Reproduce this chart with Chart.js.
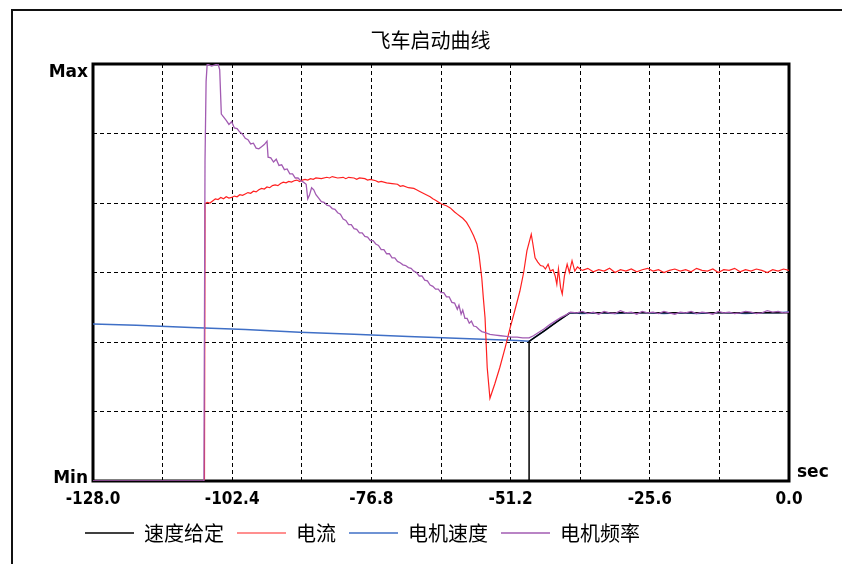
<!DOCTYPE html>
<html>
<head>
<meta charset="utf-8">
<script src="https://cdn.jsdelivr.net/npm/chart.js@4.4.1/dist/chart.umd.min.js"></script>
<style>
  body { margin: 0; background: #fff; }
</style>
</head>
<body>
<canvas id="myChart" width="842" height="564"></canvas>
<script>
// x axis: seconds, grid every 12.8 s, labels every other line
var xGrid = [-128, -115.2, -102.4, -89.6, -76.8, -64, -51.2, -38.4, -25.6, -12.8, 0];
var xTickText = ["-128.0", "", "-102.4", "", "-76.8", "", "-51.2", "", "-25.6", "", "0.0"];
var yGrid = [0, 1, 2, 3, 4, 5, 6];
var yTickText = ["Min", "Max"];
var seriesNames = ["速度给定", "电流", "电机速度", "电机频率"];

// 速度给定
var setT = [-128, -47.8, -47.8, -45.0, -42.5, -40.3, 0];
var setV = [0, 0, 2.01, 2.16, 2.30, 2.42, 2.42];

// 电流
var curT = [
  -128, -107.5, -107.4, -107.0, -106.5, -106.0, -105.5, -105.0, -104.5, -104.0,
  -103.5, -103.0, -102.5, -102.0, -101.5, -101.0, -100.5, -100.0, -99.5, -99.0,
  -98.5, -98.0, -97.5, -97.0, -96.5, -96.0, -95.5, -95.0, -94.5, -94.0,
  -93.5, -93.0, -92.5, -92.0, -91.5, -91.0, -90.5, -90.0, -89.5, -89.0,
  -88.5, -88.0, -87.5, -87.0, -86.0, -85.0, -84.5, -84.0, -83.0, -82.0,
  -81.5, -81.0, -80.0, -79.5, -79.0, -78.0, -77.5, -77.0, -76.0, -75.5,
  -75.0, -74.0, -73.0, -72.0, -71.5, -71.0, -70.0, -69.0, -68.5, -68.0,
  -67.0, -66.0, -65.5, -65.0, -64.0, -63.0, -62.3, -61.5, -61.0, -60.5,
  -60.0, -59.3, -58.7, -58.0, -57.4, -57.0, -56.5, -56.2, -55.9, -55.5,
  -55.0, -54.1, -53.2, -52.2, -51.3, -50.4, -49.5, -48.8, -48.2, -47.4,
  -47.1, -46.7, -46.2, -45.7, -45.2, -44.8, -44.3, -43.9, -43.4, -43.0,
  -42.7, -42.4, -42.0, -41.7, -41.3, -40.8, -40.4, -39.9, -39.4, -38.9,
  -38.4, -38, -37, -36, -35, -34, -33, -32, -31, -30,
  -29, -28, -27, -26, -25, -24, -23, -22, -21, -20,
  -19, -18, -17, -16, -15, -14, -13, -12, -11, -10,
  -9, -8, -7, -6, -5, -4, -3, -2, -1, 0
];
var curV = [
  0, 0, 3.99, 4.01, 4.00, 4.03, 4.06, 4.05, 4.08, 4.06,
  4.09, 4.07, 4.08, 4.10, 4.09, 4.12, 4.11, 4.13, 4.15, 4.14,
  4.17, 4.16, 4.19, 4.21, 4.20, 4.23, 4.22, 4.25, 4.26, 4.25,
  4.28, 4.30, 4.29, 4.31, 4.30, 4.32, 4.33, 4.31, 4.33, 4.34,
  4.33, 4.35, 4.34, 4.36, 4.35, 4.37, 4.36, 4.38, 4.36, 4.37,
  4.35, 4.37, 4.36, 4.34, 4.36, 4.35, 4.33, 4.34, 4.32, 4.30,
  4.31, 4.29, 4.28, 4.27, 4.24, 4.25, 4.22, 4.21, 4.19, 4.17,
  4.13, 4.09, 4.06, 4.04, 3.99, 3.96, 3.93, 3.87, 3.84, 3.81,
  3.78, 3.72, 3.64, 3.53, 3.41, 3.25, 2.92, 2.62, 2.35, 1.63,
  1.19, 1.40, 1.63, 1.92, 2.20, 2.46, 2.73, 3.00, 3.31, 3.55,
  3.41, 3.21, 3.15, 3.10, 3.09, 3.05, 3.12, 3.02, 3.04, 2.95,
  2.83, 3.05, 2.78, 2.69, 2.95, 3.12, 3.00, 3.17, 3.02, 3.08,
  3.05, 3.03, 3.06, 3.01, 3.04, 3.02, 3.06, 3.00, 3.04, 3.02,
  3.05, 3.01, 3.04, 3.06, 3.02, 3.04, 3.00, 3.03, 3.05, 3.02,
  3.04, 3.01, 3.06, 3.03, 3.02, 3.05, 3.00, 3.04, 3.03, 3.06,
  3.01, 3.04, 3.02, 3.05, 3.03, 3.00, 3.04, 3.02, 3.05, 3.03
];

// 电机速度
var spdT = [-128, -120, -110, -100, -90, -80, -70, -60, -50, -47.8,
  -46.5, -45, -43.5, -42, -40.3, -38, -35, -32, -29, -26,
  -23, -20, -17, -14, -11, -8, -5, -2, 0];
var spdV = [2.26, 2.24, 2.21, 2.18, 2.14, 2.11, 2.08, 2.05, 2.02, 2.01,
  2.08, 2.16, 2.25, 2.33, 2.42, 2.41, 2.42, 2.41, 2.42, 2.42,
  2.41, 2.42, 2.41, 2.42, 2.42, 2.41, 2.42, 2.42, 2.43];

// 电机频率
var frqT = [
  -128, -107.6, -107.4, -107.2, -107.0, -106.2, -105.4, -105.0, -104.7, -104.4,
  -104.0, -103.5, -103.0, -102.5, -102.0, -101.5, -101.0, -100.5, -100.0, -99.5,
  -99.0, -98.5, -98.0, -97.5, -97.0, -96.5, -96.0, -95.8, -95.3, -94.8,
  -94.3, -93.8, -93.3, -92.8, -92.3, -91.8, -91.3, -90.8, -90.3, -89.8,
  -89.3, -88.8, -88.5, -88.2, -87.8, -87.4, -87.0, -86.5, -86.0, -85.5,
  -85.0, -84.5, -84.0, -83.5, -83.0, -82.5, -82.0, -81.5, -81.0, -80.5,
  -80.0, -79.5, -79.0, -78.5, -78.0, -77.5, -77.0, -76.5, -76.0, -75.5,
  -75.0, -74.5, -74.0, -73.5, -73.0, -72.5, -72.0, -71.5, -71.0, -70.5,
  -70.0, -69.5, -69.0, -68.5, -68.0, -67.5, -67.0, -66.5, -66.0, -65.5,
  -65.0, -64.5, -64.0, -63.5, -63.0, -62.5, -62.0, -61.5, -61.0, -60.7,
  -60.3, -60.0, -59.6, -59.2, -58.8, -58.4, -58.0, -57.5, -57.0, -56.5,
  -56.0, -55.0, -54.0, -53.0, -52.0, -51.0, -50.0, -49.0, -47.8, -47.0,
  -46.0, -45.0, -44.0, -43.0, -42.0, -41.0, -40.2, -39, -38, -37,
  -36, -35, -34, -33, -32, -31, -30, -29, -28, -27,
  -26, -25, -24, -23, -22, -21, -20, -19, -18, -17,
  -16, -15, -14, -13, -12, -11, -10, -9, -8, -7,
  -6, -5, -4, -3, -2, -1, 0
];
var frqV = [
  0, 0, 4.6, 5.75, 6.0, 5.97, 5.99, 6.0, 5.92, 5.28,
  5.24, 5.19, 5.13, 5.17, 5.08, 5.07, 5.02, 4.99, 4.93, 4.91,
  4.85, 4.86, 4.79, 4.78, 4.81, 4.84, 4.89, 4.66, 4.65, 4.59,
  4.63, 4.54, 4.55, 4.48, 4.49, 4.42, 4.42, 4.36, 4.36, 4.32,
  4.30, 4.27, 4.06, 4.11, 4.22, 4.19, 4.12, 4.07, 4.02, 4.01,
  3.97, 3.96, 3.92, 3.91, 3.86, 3.84, 3.77, 3.75, 3.69, 3.69,
  3.63, 3.62, 3.57, 3.57, 3.52, 3.51, 3.46, 3.46, 3.41, 3.39,
  3.33, 3.33, 3.27, 3.27, 3.21, 3.21, 3.16, 3.14, 3.11, 3.10,
  3.07, 3.06, 3.02, 3.00, 2.95, 2.95, 2.89, 2.88, 2.82, 2.80,
  2.76, 2.76, 2.71, 2.71, 2.65, 2.65, 2.57, 2.56, 2.47, 2.53,
  2.40, 2.46, 2.34, 2.34, 2.27, 2.30, 2.23, 2.22, 2.18, 2.15,
  2.14, 2.11, 2.10, 2.09, 2.08, 2.07, 2.07, 2.06, 2.06, 2.09,
  2.14, 2.19, 2.25, 2.30, 2.35, 2.39, 2.43, 2.42, 2.44, 2.41,
  2.43, 2.40, 2.44, 2.42, 2.41, 2.45, 2.42, 2.43, 2.40, 2.44,
  2.42, 2.43, 2.41, 2.44, 2.42, 2.40, 2.43, 2.42, 2.44, 2.41,
  2.43, 2.42, 2.40, 2.44, 2.42, 2.43, 2.41, 2.42, 2.44, 2.43,
  2.41, 2.42, 2.45, 2.43, 2.44, 2.42, 2.43
];

function pts(ts, vs) {
  return ts.map(function (t, i) { return {x: t, y: vs[i]}; });
}

var tickFont = {family: "DejaVu Sans Condensed", size: 17, weight: "bold"};

// frame, plot border and the Max / Min / sec labels
var decor = {
  id: "decor",
  beforeDraw: function (c) {
    var ctx = c.ctx;
    ctx.save();
    ctx.fillStyle = "#fff";
    ctx.fillRect(0, 0, c.width, c.height);
    ctx.strokeStyle = "#111";
    ctx.lineWidth = 2;
    ctx.beginPath();
    ctx.moveTo(12, c.height);
    ctx.lineTo(12, 10);
    ctx.lineTo(c.width, 10);
    ctx.stroke();
    ctx.restore();
  },
  beforeDatasetsDraw: function (c) {
    var a = c.chartArea, ctx = c.ctx;
    ctx.save();
    ctx.strokeStyle = "#000";
    ctx.lineWidth = 3;
    ctx.strokeRect(a.left, a.top, a.right - a.left, a.bottom - a.top);
    ctx.restore();
  },
  afterDraw: function (c) {
    var a = c.chartArea, ctx = c.ctx, y = c.scales.y;
    ctx.save();
    ctx.fillStyle = "#000";
    ctx.font = "bold 17px 'DejaVu Sans'";
    ctx.textAlign = "right";
    ctx.textBaseline = "alphabetic";
    ctx.fillText(yTickText[1], a.left - 5, y.getPixelForValue(6) + 13);
    ctx.fillText(yTickText[0], a.left - 5, y.getPixelForValue(0) + 2);
    ctx.textAlign = "left";
    ctx.fillText("sec", a.right + 8, a.bottom - 4);
    ctx.restore();
  }
};

new Chart("myChart", {
  type: "line",
  data: {
    datasets: [
      {label: seriesNames[0], data: pts(setT, setV), borderColor: "#000000", backgroundColor: "#000000", borderWidth: 1.5, order: 1},
      {label: seriesNames[1], data: pts(curT, curV), borderColor: "#ff2020", backgroundColor: "#ff2020", borderWidth: 1.2, order: 2},
      {label: seriesNames[2], data: pts(spdT, spdV), borderColor: "#3f6fc6", backgroundColor: "#3f6fc6", borderWidth: 1.5, order: 3},
      {label: seriesNames[3], data: pts(frqT, frqV), borderColor: "#a25bb2", backgroundColor: "#a25bb2", borderWidth: 1.3, order: 0}
    ]
  },
  options: {
    responsive: false,
    animation: false,
    devicePixelRatio: 1,
    elements: {point: {radius: 0}, line: {tension: 0}},
    layout: {padding: {left: 72, right: 53, top: 0, bottom: 11}},
    scales: {
      x: {
        type: "linear",
        min: -128,
        max: 0,
        afterBuildTicks: function (s) { s.ticks = xGrid.map(function (v) { return {value: v}; }); },
        afterFit: function (s) { s.height = 29; },
        ticks: {
          autoSkip: false,
          maxRotation: 0,
          padding: 8,
          color: "#000",
          font: tickFont,
          callback: function (v, i) { return xTickText[i]; }
        },
        grid: {color: "#000", lineWidth: 1, drawTicks: false},
        border: {display: false, dash: [4, 3]}
      },
      y: {
        min: 0,
        max: 6,
        afterBuildTicks: function (s) { s.ticks = yGrid.map(function (v) { return {value: v}; }); },
        afterFit: function (s) { s.width = 21; },
        ticks: {display: false},
        grid: {color: "#000", lineWidth: 1, drawTicks: false},
        border: {display: false, dash: [4, 3]}
      }
    },
    plugins: {
      title: {
        display: true,
        text: "飞车启动曲线",
        color: "#000",
        font: {family: "'Noto Sans CJK SC'", size: 20, weight: "normal"},
        padding: {top: 28, bottom: 12}
      },
      legend: {
        position: "bottom",
        align: "start",
        labels: {
          usePointStyle: true,
          pointStyle: "line",
          pointStyleWidth: 49,
          padding: 13,
          color: "#000",
          font: {family: "'Noto Sans CJK SC'", size: 20},
          sort: function (a, b) { return a.datasetIndex - b.datasetIndex; }
        }
      },
      tooltip: {enabled: false}
    }
  },
  plugins: [decor]
});
</script>
</body>
</html>
